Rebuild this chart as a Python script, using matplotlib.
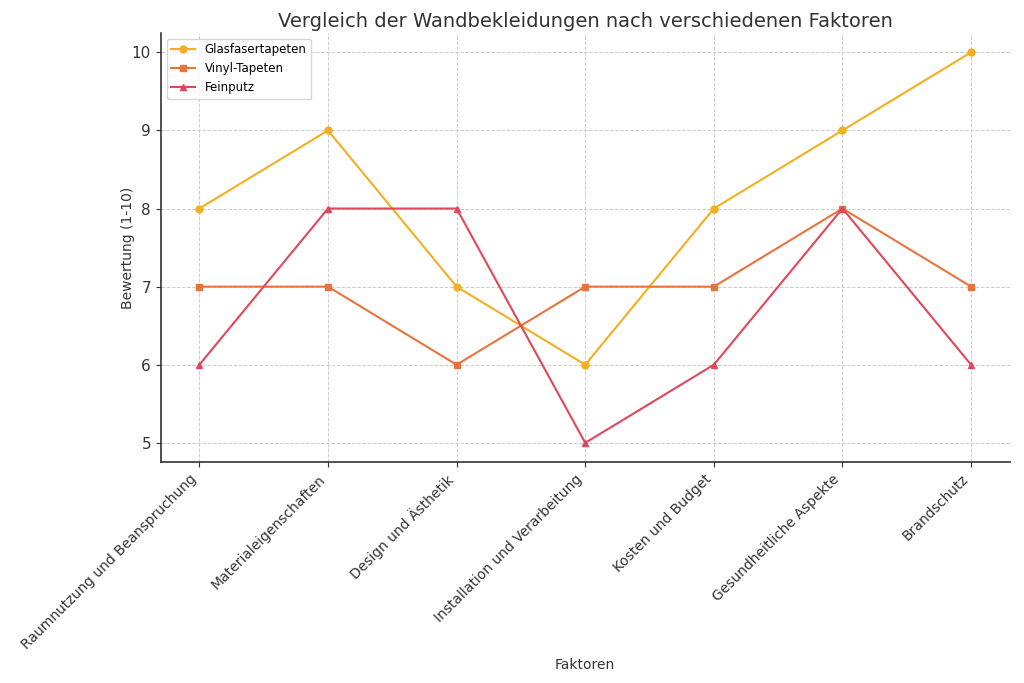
import matplotlib
matplotlib.use('Agg')
import matplotlib.pyplot as plt

# Daten
faktoren = ['Raumnutzung und Beanspruchung', 'Materialeigenschaften', 'Design und Ästhetik',
            'Installation und Verarbeitung', 'Kosten und Budget', 'Gesundheitliche Aspekte',
            'Brandschutz']
glasfaser = [8, 9, 7, 6, 8, 9, 10]
vinyl = [7, 7, 6, 7, 7, 8, 7]
feinputz = [6, 8, 8, 5, 6, 8, 6]

fig, ax = plt.subplots(figsize=(10.24, 6.83), dpi=100)
fig.subplots_adjust(left=0.157, right=0.986, top=0.952, bottom=0.323)

ax.plot(faktoren, glasfaser, marker='o', markersize=5, color='#f2b01e', lw=1.5, label='Glasfasertapeten')
ax.plot(faktoren, vinyl, marker='s', markersize=5, color='#e8743b', lw=1.5, label='Vinyl-Tapeten')
ax.plot(faktoren, feinputz, marker='^', markersize=5, color='#e0475b', lw=1.5, label='Feinputz')

ax.set_title('Vergleich der Wandbekleidungen nach verschiedenen Faktoren', fontsize=14, color='#333333', pad=4)
ax.set_xlabel('Faktoren', fontsize=10, color='#333333', labelpad=4)
ax.set_ylabel('Bewertung (1-10)', fontsize=10, color='#333333', labelpad=-2)
plt.setp(ax.get_xticklabels(), rotation=45, ha='right', fontsize=10, color='#333333')
plt.setp(ax.get_yticklabels(), fontsize=11, color='#333333')

ax.grid(True, linestyle='--', color='#cccccc', lw=0.7)
for s in ['top', 'right']:
    ax.spines[s].set_visible(False)
for s in ['left', 'bottom']:
    ax.spines[s].set_color('#333333')
    ax.spines[s].set_linewidth(1.2)
ax.tick_params(colors='#333333')
ax.legend(loc='upper left', fontsize=8.5, framealpha=0.8)

plt.savefig('out.png', dpi=100)
